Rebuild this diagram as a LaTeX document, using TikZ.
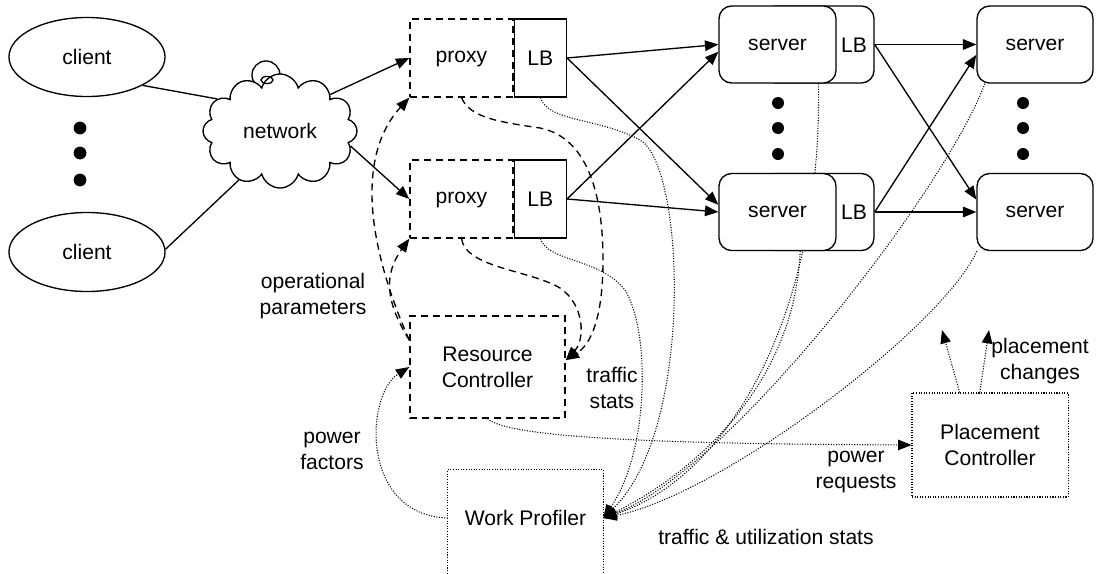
\documentclass[tikz,border=0pt]{standalone}
\usepackage{fontspec}
\setmainfont{Liberation Sans}
\usetikzlibrary{arrows.meta,positioning,shapes.geometric,shapes.symbols,backgrounds}

\begin{document}
\begin{tikzpicture}[x=0.025cm,y=-0.025cm,>={Triangle[length=9.5pt,width=7.5pt]},
  font=\fontsize{15}{18.5}\selectfont,every node/.style={align=center},
  ln/.style={line width=0.95pt},
  dsh/.style={line width=0.95pt,dash pattern=on 5pt off 3.5pt},
  dts/.style={line width=0.75pt,dash pattern=on 0.75pt off 1.1pt},
  client/.style={draw,ellipse,ln,minimum width=3.9cm,minimum height=1.975cm,inner sep=0pt},
  proxybox/.style={draw,dsh,minimum width=2.575cm,minimum height=1.95cm,inner sep=0pt,text depth=0.1em},
  lbbox/.style={draw,ln,fill=white,minimum width=1.3cm,minimum height=1.95cm,inner sep=0pt},
  srv/.style={draw,ln,fill=white,rounded corners=9pt,minimum width=2.925cm,minimum height=1.925cm,inner sep=0pt}]
\useasboundingbox (0,0) rectangle (1096,573);

\node[client] (c1) at (87,57) {client};
\node[client] (c2) at (87,252) {client};
\foreach \yy in {128,153,180} \fill (80,\yy) circle[radius=0.16cm];

\draw[ln,fill=white] (266,75) circle[radius=0.35cm];
\node[cloud,draw,ln,fill=white,cloud puffs=12,aspect=1.35,minimum width=3.85cm,minimum height=2.85cm,inner sep=0pt] (net) at (280,131) {network};
\draw[ln] (267,80) ellipse[x radius=0.15cm,y radius=0.09cm];

\node[proxybox] (p1) at (461.5,58) {proxy};
\node[lbbox,right=0pt of p1] (lb1) {LB};
\node[proxybox] (p2) at (461.5,199) {proxy};
\node[lbbox,right=0pt of p2] (lb2) {LB};

\node[srv,minimum width=2.775cm] (sb1) at (818.5,44.5) {};
\node[srv] (s1) at (777.5,44.5) {server};
\node (sl1) at (854,45) {LB};
\node[srv,minimum width=2.775cm] (sb2) at (818.5,212) {};
\node[srv] (s2) at (777.5,212) {server};
\node (sl2) at (854,212) {LB};
\foreach \yy in {103,128,154} \fill (778,\yy) circle[radius=0.15cm];

\node[srv,minimum width=2.9cm] (s3) at (1035,44.5) {server};
\node[srv,minimum width=2.9cm] (s4) at (1035,212) {server};
\foreach \yy in {103,128,154} \fill (1023,\yy) circle[radius=0.15cm];

\node[draw,dsh,minimum width=3.875cm,minimum height=2.55cm] (rc) at (487.5,367) {Resource\\Controller};
\node[draw,dts,minimum width=3.9cm,minimum height=2.6cm] (pc) at (990,445) {Placement\\Controller};
\node[minimum width=3.875cm,minimum height=2.4cm] (wp) at (525.5,518) {Work Profiler};
\draw[dts] (wp.north west) ++(0,104) -- (wp.north west) -- (wp.north east) -- ++(0,104);

\draw[ln] (c1.-27) -- (net.153);
\draw[ln] (c2.2) -- (net.230);
\draw[ln,->] (net.36) -- (p1.west);
\draw[ln,->] (net.-12) -- (p2.west);
\draw[ln,->] (lb1.east) -- (s1.west);
\draw[ln,->] (lb1.east) -- (s2.173);
\draw[ln,->] (lb2.east) -- (s1.187);
\draw[ln,->] (lb2.east) -- (s2.west);
\draw[ln,->] (sb1.east) -- (s3.west);
\draw[ln,->] (sb1.east) -- (s4.168);
\draw[ln,->] (sb2.east) -- (s3.190);
\draw[ln,->] (sb2.east) -- (s4.west);

\draw[dsh,->] (rc.161) .. controls +(-40,-90) and +(-55,60) .. (p1.south west);
\draw[dsh,->] (rc.161) .. controls +(-25,-40) and +(-25,35) .. (p2.south west);
\draw[dsh,->] (p1.south) .. controls (470,118) and (500,122) .. (540,128) .. controls (590,138) and (603,200) .. (603,260) .. controls (603,320) and (590,345) .. (rc.5);
\draw[dsh,->] (p2.south) .. controls (466,268) and (530,270) .. (560,288) .. controls (585,305) and (585,340) .. (rc.5);

\begin{scope}[on background layer]
\draw[dts,->] (lb1.south) .. controls (548,122) and (600,118) .. (640,140) .. controls (685,165) and (695,430) .. (wp.east);
\draw[dts,->] (lb2.south) .. controls (548,262) and (600,258) .. (625,290) .. controls (650,330) and (650,450) .. (wp.east);
\draw[dts,->] (sb1.south) .. controls (822,330) and (720,480) .. (wp.east);
\draw[dts,->] (s2.-60) .. controls (795,380) and (700,470) .. (wp.east);
\draw[dts,->] (s3.-142) .. controls (945,190) and (730,470) .. (wp.east);
\draw[dts,->] (s4.-146) .. controls (940,330) and (720,495) .. (wp.east);
\end{scope}

\draw[dts,->] (rc.south) .. controls (510,440) and (700,444) .. (pc.west);
\draw[dts,->] (wp.west) .. controls (360,515) and (365,395) .. (rc.west);
\coordinate (pca) at (942,330);
\coordinate (pcb) at (989,330);
\draw[dts,->] (pc.120) -- (pca);
\draw[dts,->] (pc.101) -- (pcb);

\node (oplbl) at (313,296) {operational\\parameters};
\node (tslbl) at (612,388) {traffic\\stats};
\node (pflbl) at (332,451) {power\\factors};
\node (prlbl) at (856,472) {power\\requests};
\node (pclbl) at (1040,361) {placement\\changes};
\node (tulbl) at (766,537) {traffic \& utilization stats};
\end{tikzpicture}
\end{document}
